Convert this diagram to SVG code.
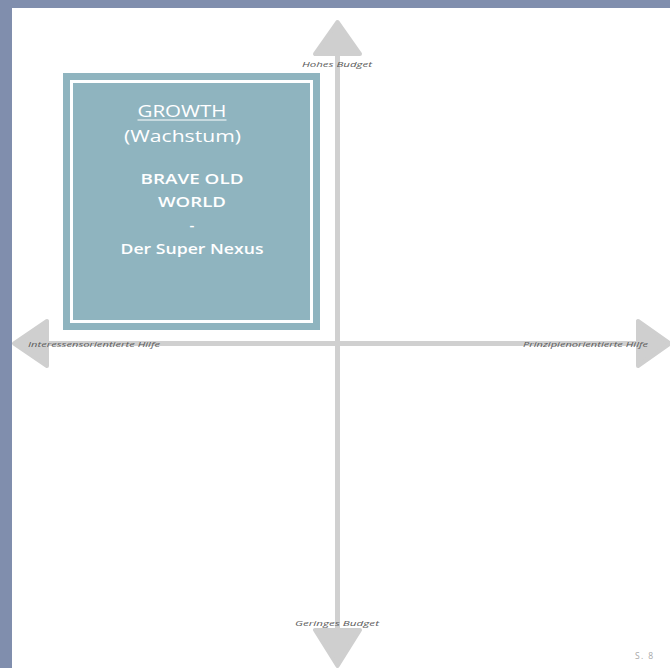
<svg xmlns="http://www.w3.org/2000/svg" width="670" height="668" viewBox="0 0 670 668">
  <style>
    .axis { stroke: #d0d0d0; stroke-width: 5; }
    .head { fill: #cfcfcf; stroke: #cfcfcf; stroke-width: 4; stroke-linejoin: round; }
    .axlabel { font-family: "Open Sans", "Liberation Sans", sans-serif; font-style: italic; font-size: 8px; fill: #5a5a5a; }
    .title { font-family: "Open Sans", "Liberation Sans", sans-serif; fill: #ffffff; text-anchor: middle; }
  </style>
  <!-- page frame -->
  <rect x="0" y="0" width="670" height="668" fill="#808ead"/>
  <rect x="12" y="8" width="658" height="660" fill="#ffffff"/>

  <!-- axes -->
  <g id="connectors">
    <line class="axis" x1="337.5" y1="50" x2="337.5" y2="632"/>
    <line class="axis" x1="45" y1="343.5" x2="640" y2="343.5"/>
    <polygon class="head" points="337.5,22 315,54 360,54"/>
    <polygon class="head" points="337.5,666 315,630 360,630"/>
    <polygon class="head" points="14,343.5 47,321 47,366"/>
    <polygon class="head" points="670,343.5 638,321 638,366"/>
  </g>

  <g id="label-top">
    <text class="axlabel" x="302" y="67" textLength="70" lengthAdjust="spacingAndGlyphs">Hohes Budget</text>
  </g>
  <g id="label-bottom">
    <text class="axlabel" x="295" y="626" textLength="84" lengthAdjust="spacingAndGlyphs">Geringes Budget</text>
  </g>
  <g id="label-left">
    <text class="axlabel" x="28" y="346.5" textLength="132" lengthAdjust="spacingAndGlyphs">Interessensorientierte Hilfe</text>
  </g>
  <g id="label-right">
    <text class="axlabel" x="523" y="346.5" textLength="125" lengthAdjust="spacingAndGlyphs">Prinzipienorientierte Hilfe</text>
  </g>

  <!-- quadrant box -->
  <g id="growth">
    <rect x="63" y="73" width="257" height="257" fill="#8fb4bf"/>
    <rect x="71.5" y="81.5" width="240" height="240" fill="none" stroke="#ffffff" stroke-width="3"/>
    <text class="title" x="182" y="117" font-size="17" textLength="89" lengthAdjust="spacingAndGlyphs">GROWTH</text>
    <line x1="137.5" y1="120" x2="226.5" y2="120" stroke="#ffffff" stroke-width="1"/>
    <text class="title" x="182.5" y="142" font-size="17" textLength="117" lengthAdjust="spacingAndGlyphs">(Wachstum)</text>
    <text class="title" x="192" y="184" font-size="15" font-weight="600" textLength="103" lengthAdjust="spacingAndGlyphs">BRAVE OLD</text>
    <text class="title" x="192" y="207" font-size="15" font-weight="600" textLength="68" lengthAdjust="spacingAndGlyphs">WORLD</text>
    <text class="title" x="192" y="230" font-size="15" font-weight="600">-</text>
    <text class="title" x="192" y="254" font-size="15" font-weight="600" textLength="143" lengthAdjust="spacingAndGlyphs">Der Super Nexus</text>
  </g>

  <g id="page-number">
    <text x="635" y="659" font-family="Open Sans, Liberation Sans, sans-serif" font-size="8.5" fill="#a8a8a8" textLength="18" lengthAdjust="spacing">S. 8</text>
  </g>
</svg>
